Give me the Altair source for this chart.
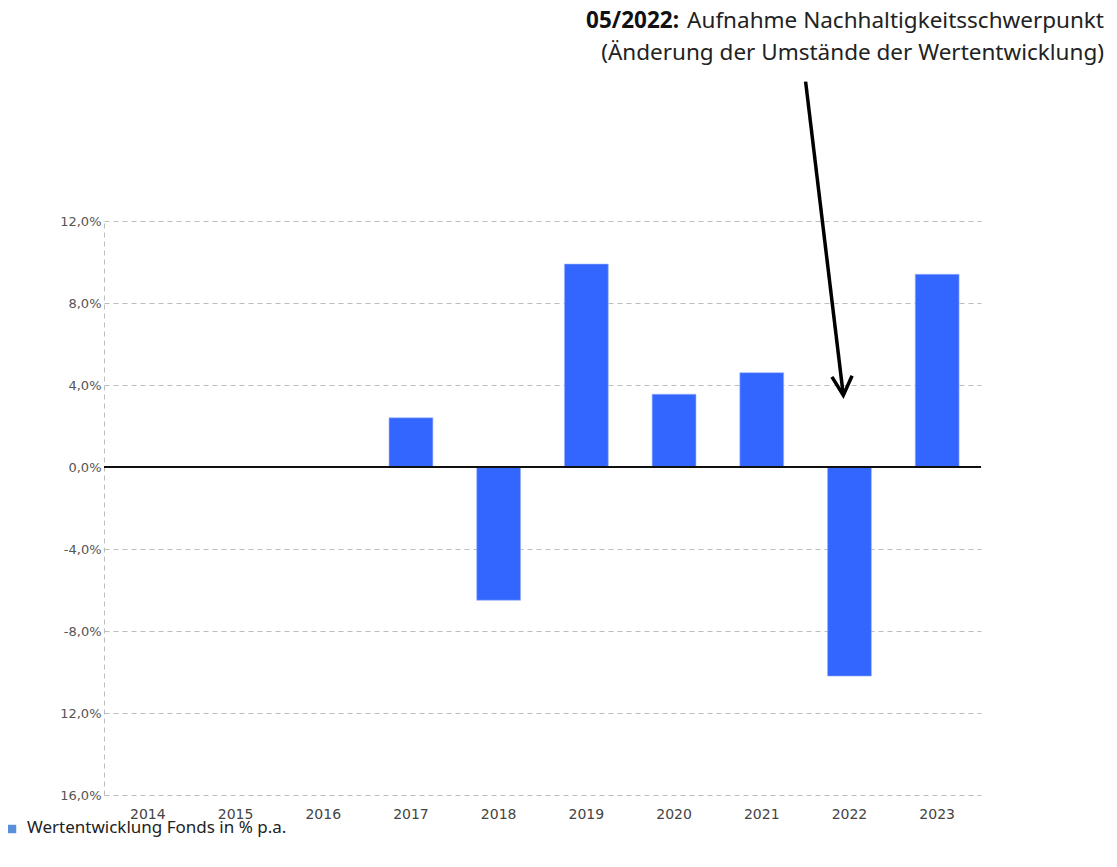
import altair as alt
import pandas as pd

# ---- data ----
years = ["2014", "2015", "2016", "2017", "2018", "2019", "2020", "2021", "2022", "2023"]
returns = [None, None, None, 2.4, -6.5, 9.9, 3.55, 4.6, -10.2, 9.4]

y_ticks = [12, 8, 4, 0, -4, -8, -12, -16]
y_tick_labels = ["12,0%", "8,0%", "4,0%", "0,0%", "-4,0%", "-8,0%", "12,0%", "16,0%"]

legend_label = "Wertentwicklung Fonds in % p.a."
note_bold = "05/2022:"
note_line1 = "Aufnahme Nachhaltigkeitsschwerpunkt"
note_line2 = "(Änderung der Umstände der Wertentwicklung)"

# arrow annotation (x in band units 0..10, y in %)
arrow_seg = ["shaft", "shaft", "head", "head", "head"]
arrow_x = [8.0, 8.43, 8.30, 8.43, 8.53]
arrow_y = [18.8, 3.5, 4.4, 3.5, 4.45]
arrow_ord = [0, 1, 0, 1, 2]

W, H = 877, 574
PL, PT = 96, 213

df = pd.DataFrame({"year": years, "value": returns})
arrow_df = pd.DataFrame({"seg": arrow_seg, "ax": arrow_x, "ay": arrow_y, "o": arrow_ord})

label_map = "{" + ",".join(f"'{v}':'{l}'" for v, l in zip(y_ticks, y_tick_labels)) + "}"

y_scale = alt.Scale(domain=[-16, 12], nice=False, zero=False)
x_scale = alt.Scale(paddingInner=0.5, paddingOuter=0.25)

bars = alt.Chart(df).mark_bar(color="#3366ff", stroke="#9db4ff", strokeWidth=0.6).encode(
    x=alt.X("year:N", sort=years, scale=x_scale,
            axis=alt.Axis(title=None, labelAngle=0, domain=False, ticks=False,
                          labelPadding=12, labelFont="DejaVu Sans", labelFontSize=14,
                          labelColor="#444", grid=False)),
    y=alt.Y("value:Q", scale=y_scale,
            axis=alt.Axis(title=None, values=y_ticks, labelExpr=f"{label_map}[datum.value]",
                          grid=True, gridColor="#bdbdbd", gridDash=[5, 4], gridWidth=1,
                          domain=True, domainColor="#bdbdbd", domainDash=[5, 4],
                          ticks=False, labelPadding=3, labelFont="DejaVu Sans",
                          labelFontSize=13, labelColor="#555")),
)

zero = alt.Chart(df).mark_rule(color="#111", strokeWidth=1.5).encode(
    y=alt.Y(datum=0, scale=y_scale)
)

arrow = alt.Chart(arrow_df).mark_line(color="black", strokeWidth=3.5, strokeCap="butt",
                                      strokeJoin="miter", clip=False).encode(
    x=alt.X("ax:Q", scale=alt.Scale(domain=[0, 10], nice=False, zero=False), axis=None),
    y=alt.Y("ay:Q", scale=y_scale),
    detail="seg:N",
    order="o:Q",
)

base_txt = alt.Chart(pd.DataFrame({"t": [0]}))
txt_font = "Noto Sans"
FS = 22.5
t_bold = base_txt.mark_text(text=note_bold, font=txt_font, fontSize=FS, fontWeight="bold",
                            align="right", baseline="middle", color="#111").encode(
    x=alt.value(679 - 8 - PL), y=alt.value(21 - 8 - PT))
t_l1 = base_txt.mark_text(text=note_line1, font=txt_font, fontSize=FS,
                          align="right", baseline="middle", color="#222").encode(
    x=alt.value(1104 - 8 - PL), y=alt.value(21 - 8 - PT))
t_l2 = base_txt.mark_text(text=note_line2, font=txt_font, fontSize=FS,
                          align="right", baseline="middle", color="#222").encode(
    x=alt.value(1104 - 8 - PL), y=alt.value(53 - 8 - PT))

leg_sq = base_txt.mark_square(color="#5b8fdb", size=72, opacity=1, filled=True).encode(
    x=alt.value(12 - 8 - PL), y=alt.value(829 - 8 - PT))
leg_txt = base_txt.mark_text(text=legend_label, font=txt_font, fontSize=17,
                             align="left", baseline="middle", color="#222").encode(
    x=alt.value(27 - 8 - PL), y=alt.value(828 - 8 - PT))

chart = alt.layer(bars, zero, arrow, t_bold, t_l1, t_l2, leg_sq, leg_txt).resolve_scale(
    x="independent"
).properties(
    width=W, height=H,
    background="white",
    autosize=alt.AutoSizeParams(type="none"),
    padding={"left": PL, "top": PT, "right": 124, "bottom": 45},
).configure_view(strokeWidth=0, stroke=None)

chart.save("out.html", embed_options={"renderer": "svg", "actions": False})
